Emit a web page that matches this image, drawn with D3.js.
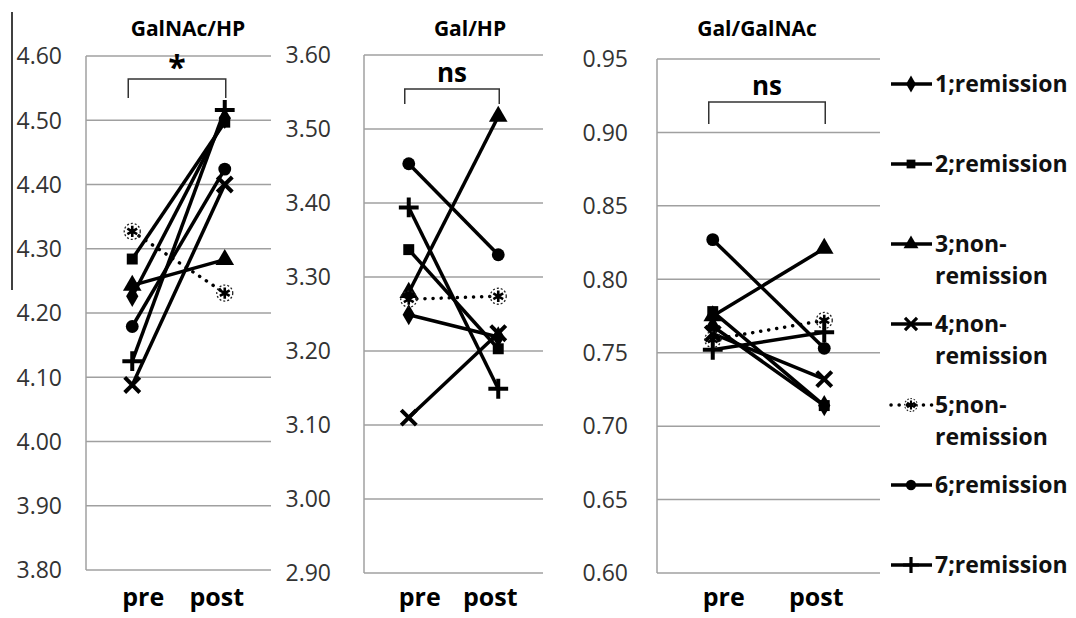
<!DOCTYPE html>
<html><head><meta charset="utf-8">
<script src="https://cdn.jsdelivr.net/npm/d3@7"></script>
<style>body{margin:0;background:#fff}svg{display:block}</style>
</head><body>
<svg id="c" width="1076" height="618"></svg>
<script>
const categories = ["pre", "post"];
const seriesNames = ["1;remission","2;remission","3;non-remission","4;non-remission","5;non-remission","6;remission","7;remission"];
const markerTypes = ["diamond","square","triangle","times","special","circle","plus"];
const galnacHP  = [[4.226,4.503],[4.284,4.497],[4.243,4.283],[4.088,4.400],[4.327,4.231],[4.179,4.424],[4.125,4.516]];
const galHP     = [[3.249,3.219],[3.337,3.203],[3.279,3.517],[3.110,3.224],[3.270,3.274],[3.453,3.330],[3.394,3.149]];
const galGalnac = [[0.768,0.714],[0.778,0.714],[0.775,0.821],[0.763,0.732],[0.759,0.772],[0.827,0.753],[0.752,0.764]];
const ticks1 = [3.8,3.9,4.0,4.1,4.2,4.3,4.4,4.5,4.6];
const ticks2 = [2.9,3.0,3.1,3.2,3.3,3.4,3.5,3.6];
const ticks3 = [0.60,0.65,0.70,0.75,0.80,0.85,0.90,0.95];
const titles = ["GalNAc/HP","Gal/HP","Gal/GalNAc"];
const sigLabels = ["*","ns","ns"];

const svg = d3.select("#c");
const panels = [
  {data: galnacHP, ticks: ticks1, domain:[3.8,4.6], x0:86, x1:271, yb:570, yt:56, labelX:62, titleX:188, sigY:[79,98], sigTextY:79},
  {data: galHP, ticks: ticks2, domain:[2.9,3.6], x0:364, x1:543, yb:573, yt:55, labelX:331, titleX:470, sigY:[89,104], sigTextY:82},
  {data: galGalnac, ticks: ticks3, domain:[0.60,0.95], x0:657, x1:880, yb:573, yt:59, labelX:628, titleX:757, sigY:[102,124], sigTextY:95}
];

function markerPath(type) {
  const sym = {
    diamond: [d3.symbolDiamond, 130],
    square: [d3.symbolSquare, 120],
    triangle: [d3.symbolTriangle, 150],
    circle: [d3.symbolCircle, 130],
    times: [d3.symbolTimes || d3.symbolCross, 150],
    plus: [d3.symbolPlus || d3.symbolCross, 130],
    special: [d3.symbolAsterisk || d3.symbolStar, 90]
  }[type];
  return d3.symbol().type(sym[0]).size(sym[1])();
}
function drawMarker(g, type, x, y, scale) {
  const t = g.append("g").attr("transform", `translate(${x},${y}) scale(${scale})`);
  if (type === "times" || type === "plus") {
    t.append("path").attr("d", markerPath(type)).attr("fill","none").attr("stroke","#000").attr("stroke-width",4);
  } else if (type === "special") {
    t.append("circle").attr("r",8).attr("fill","none").attr("stroke","#222").attr("stroke-width",1.3).attr("stroke-dasharray","2,2");
    t.append("path").attr("d", markerPath(type)).attr("fill","none").attr("stroke","#000").attr("stroke-width",2.6);
  } else {
    t.append("path").attr("d", markerPath(type)).attr("fill","#000");
  }
}

svg.append("line").attr("x1",12).attr("x2",12).attr("y1",12).attr("y2",290).attr("stroke","#000").attr("stroke-width",1.5);

panels.forEach((p, pi) => {
  const y = d3.scaleLinear().domain(p.domain).range([p.yb, p.yt]);
  const x = d3.scalePoint().domain(categories).range([p.x0, p.x1]).padding(0.5);
  const g = svg.append("g");
  g.selectAll("line.grid").data(p.ticks).join("line")
    .attr("x1", p.x0).attr("x2", p.x1).attr("y1", d => y(d)).attr("y2", d => y(d))
    .attr("stroke", "#a0a0a0").attr("stroke-width", 1.5);
  g.append("line").attr("x1",p.x0).attr("x2",p.x0).attr("y1",p.yt).attr("y2",p.yb)
    .attr("stroke","#a0a0a0").attr("stroke-width",1.5);
  g.selectAll("text.tick").data(p.ticks).join("text")
    .attr("x", p.labelX).attr("y", d => y(d)).attr("dy","0.36em")
    .attr("text-anchor","end").attr("font-family","Open Sans").attr("font-size",23).attr("fill","#333")
    .text(d => d.toFixed(2));
  g.selectAll("text.cat").data(categories).join("text")
    .attr("x", (d,i) => x(d) + (i === 0 ? 11 : -8)).attr("y", 606)
    .attr("text-anchor","middle").attr("font-family","Open Sans").attr("font-weight","bold").attr("font-size",25).attr("fill","#000")
    .text(d => d);
  g.append("text").attr("x", p.titleX).attr("y", 36).attr("text-anchor","middle")
    .attr("font-family","Open Sans").attr("font-weight","bold").attr("font-size",21).text(titles[pi]);
  const bx0 = x(categories[0]) - 4, bx1 = x(categories[1]) + 1;
  g.append("path").attr("d", `M${bx0},${p.sigY[1]}V${p.sigY[0]}H${bx1}V${p.sigY[1]}`)
    .attr("fill","none").attr("stroke","#333").attr("stroke-width",1.5);
  g.append("text").attr("x", (bx0+bx1)/2).attr("y", p.sigTextY)
    .attr("text-anchor","middle").attr("font-family","Open Sans").attr("font-weight","bold")
    .attr("font-size", pi === 0 ? 32 : 26).text(sigLabels[pi]);
  const line = d3.line().x((d,i) => x(categories[i])).y(d => y(d));
  p.data.forEach((s, si) => {
    g.append("path").attr("d", line(s)).attr("fill","none").attr("stroke","#000")
      .attr("stroke-width", 3.5)
      .attr("stroke-dasharray", si === 4 ? "0.1,8" : null).attr("stroke-linecap", si === 4 ? "round" : "butt");
  });
  p.data.forEach((s, si) => {
    s.forEach((v, i) => drawMarker(g, markerTypes[si], x(categories[i]), y(v), 1));
  });
});

const legendY = [84, 164, 244, 324, 405, 485, 565];
const lg = svg.append("g");
seriesNames.forEach((name, i) => {
  const yy = legendY[i];
  lg.append("line").attr("x1",891).attr("x2",932).attr("y1",yy).attr("y2",yy)
    .attr("stroke","#000").attr("stroke-width",3.5)
    .attr("stroke-dasharray", i === 4 ? "0.1,8" : null).attr("stroke-linecap", i === 4 ? "round" : "butt");
  drawMarker(lg, markerTypes[i], 911, yy, 0.8);
  const parts = name.includes("non-") ? [name.split("non-")[0] + "non-", "remission"] : [name];
  const t = lg.append("text").attr("font-family","Open Sans").attr("font-weight","bold").attr("font-size",23).attr("fill","#111");
  parts.forEach((pt, k) => {
    t.append("tspan").attr("x", 935).attr("y", yy + 8 + k * 32).text(pt);
  });
});
</script>
</body></html>
